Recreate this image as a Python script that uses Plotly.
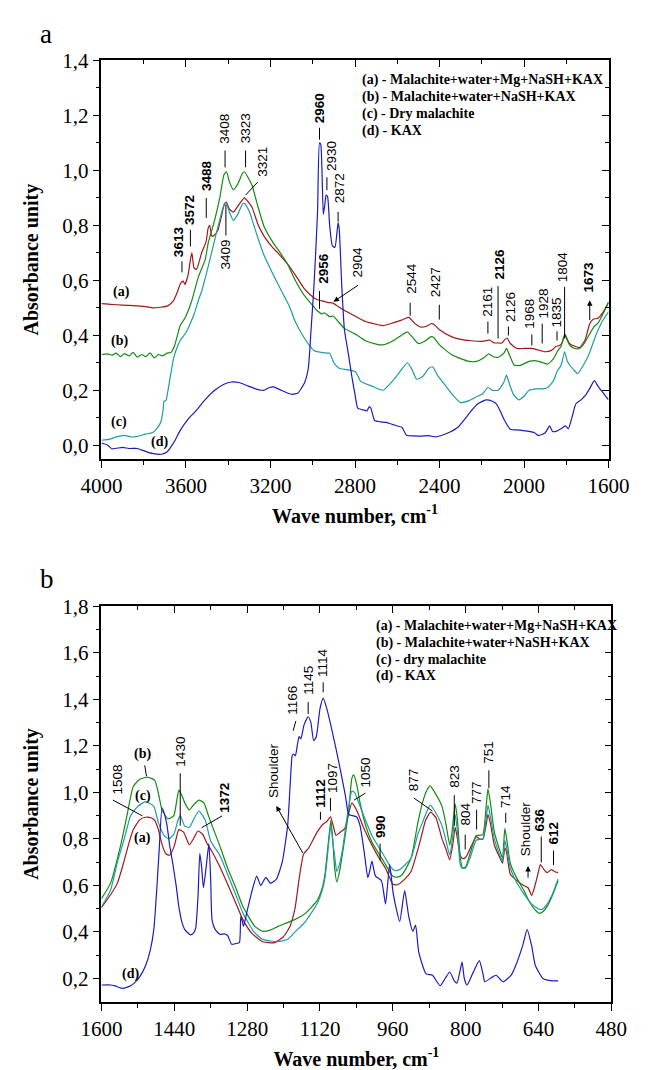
import plotly.graph_objects as go

# ---------------- Panel a: 4000-1600 cm-1 ----------------
A_WN_RED = [4000, 3950, 3900, 3850, 3800, 3760, 3720, 3686, 3660, 3642, 3625, 3613, 3605, 3590, 3578, 3572, 3562,
            3550, 3526, 3505, 3495, 3488, 3477, 3465, 3450, 3430, 3420, 3409, 3395, 3376, 3350, 3323, 3300, 3287,
            3260, 3230, 3190, 3154, 3120, 3083, 3040, 3008, 2980, 2956, 2930, 2911, 2904, 2880, 2850, 2800, 2750,
            2700, 2667, 2620, 2580, 2552, 2544, 2520, 2490, 2465, 2440, 2427, 2400, 2344, 2300, 2250, 2198, 2167,
            2161, 2140, 2126, 2105, 2090, 2080, 2065, 2034, 2000, 1968, 1940, 1901, 1870, 1848, 1835, 1820, 1808,
            1804, 1795, 1785, 1760, 1737, 1710, 1690, 1673, 1650, 1625, 1600]
A_AB_RED = [0.515, 0.512, 0.510, 0.508, 0.505, 0.500, 0.502, 0.507, 0.525, 0.555, 0.590, 0.597, 0.585, 0.620, 0.680,
            0.700, 0.645, 0.640, 0.700, 0.740, 0.790, 0.800, 0.760, 0.765, 0.780, 0.840, 0.875, 0.885, 0.860, 0.848,
            0.875, 0.900, 0.880, 0.865, 0.805, 0.760, 0.720, 0.690, 0.660, 0.620, 0.570, 0.545, 0.530, 0.525, 0.520,
            0.518, 0.517, 0.505, 0.490, 0.470, 0.450, 0.440, 0.435, 0.445, 0.455, 0.464, 0.465, 0.445, 0.430, 0.432,
            0.442, 0.440, 0.420, 0.395, 0.385, 0.380, 0.378, 0.382, 0.382, 0.372, 0.372, 0.372, 0.385, 0.390, 0.370,
            0.352, 0.352, 0.352, 0.348, 0.340, 0.345, 0.360, 0.362, 0.372, 0.400, 0.402, 0.385, 0.370, 0.360, 0.355,
            0.385, 0.440, 0.458, 0.462, 0.485, 0.520]

A_WN_GREEN = [4000, 3970, 3950, 3930, 3910, 3890, 3870, 3850, 3830, 3810, 3790, 3770, 3750, 3730, 3710, 3690, 3670,
              3655, 3642, 3628, 3615, 3600, 3575, 3540, 3509, 3495, 3464, 3440, 3420, 3408, 3395, 3376, 3355, 3332,
              3323, 3300, 3287, 3260, 3230, 3190, 3154, 3120, 3083, 3040, 3008, 2980, 2956, 2945, 2920, 2904, 2880,
              2850, 2800, 2750, 2700, 2667, 2620, 2580, 2552, 2530, 2500, 2470, 2440, 2427, 2400, 2344, 2300, 2260,
              2224, 2190, 2167, 2145, 2122, 2095, 2083, 2070, 2047, 2020, 1976, 1950, 1932, 1910, 1888, 1860, 1843,
              1825, 1808, 1795, 1782, 1760, 1737, 1715, 1693, 1670, 1649, 1625, 1600]
A_AB_GREEN = [0.330, 0.332, 0.328, 0.335, 0.322, 0.333, 0.325, 0.338, 0.320, 0.330, 0.322, 0.336, 0.318, 0.330,
              0.325, 0.335, 0.338, 0.360, 0.395, 0.435, 0.450, 0.470, 0.520, 0.615, 0.675, 0.735, 0.820, 0.900,
              0.985, 0.995, 0.960, 0.930, 0.950, 0.990, 0.995, 0.965, 0.945, 0.870, 0.795, 0.740, 0.700, 0.660,
              0.600, 0.545, 0.515, 0.490, 0.478, 0.482, 0.468, 0.470, 0.450, 0.425, 0.405, 0.380, 0.368, 0.365,
              0.380, 0.400, 0.412, 0.395, 0.370, 0.378, 0.395, 0.392, 0.365, 0.330, 0.315, 0.305, 0.305, 0.318,
              0.332, 0.322, 0.320, 0.335, 0.352, 0.330, 0.292, 0.290, 0.305, 0.308, 0.305, 0.300, 0.295, 0.315,
              0.340, 0.360, 0.402, 0.380, 0.362, 0.352, 0.352, 0.370, 0.400, 0.430, 0.445, 0.480, 0.520]

A_WN_TEAL = [4000, 3960, 3930, 3894, 3860, 3830, 3792, 3760, 3747, 3725, 3717, 3708, 3704, 3695, 3685, 3659, 3640,
             3628, 3600, 3584, 3560, 3540, 3526, 3495, 3460, 3430, 3420, 3409, 3395, 3376, 3355, 3332, 3323, 3300,
             3287, 3260, 3230, 3190, 3154, 3110, 3083, 3040, 2995, 2960, 2930, 2920, 2900, 2875, 2840, 2800, 2785,
             2773, 2720, 2667, 2620, 2580, 2552, 2530, 2508, 2480, 2450, 2432, 2410, 2375, 2340, 2300, 2260, 2220,
             2198, 2171, 2150, 2122, 2095, 2083, 2070, 2050, 2025, 2000, 1976, 1940, 1910, 1888, 1860, 1843, 1825,
             1808, 1795, 1782, 1760, 1746, 1720, 1693, 1660, 1630, 1600]
A_AB_TEAL = [0.018, 0.022, 0.030, 0.036, 0.030, 0.032, 0.040, 0.045, 0.053, 0.075, 0.090, 0.130, 0.160, 0.162,
             0.200, 0.315, 0.360, 0.380, 0.410, 0.435, 0.480, 0.530, 0.560, 0.650, 0.760, 0.850, 0.872, 0.878,
             0.850, 0.818, 0.840, 0.878, 0.880, 0.850, 0.820, 0.755, 0.690, 0.625, 0.570, 0.505, 0.450, 0.390,
             0.345, 0.338, 0.335, 0.335, 0.300, 0.280, 0.275, 0.268, 0.250, 0.232, 0.215, 0.200, 0.235, 0.275,
             0.300, 0.275, 0.240, 0.250, 0.280, 0.285, 0.255, 0.220, 0.185, 0.155, 0.162, 0.178, 0.185, 0.210,
             0.200, 0.200, 0.230, 0.255, 0.225, 0.185, 0.165, 0.178, 0.200, 0.205, 0.205, 0.210, 0.235, 0.270,
             0.290, 0.340, 0.305, 0.290, 0.270, 0.260, 0.290, 0.330, 0.400, 0.450, 0.485]

A_WN_BLUE = [4000, 3970, 3951, 3900, 3870, 3830, 3800, 3760, 3717, 3690, 3672, 3650, 3628, 3590, 3553, 3510, 3464,
             3420, 3385, 3350, 3305, 3270, 3243, 3230, 3205, 3185, 3150, 3120, 3097, 3070, 3040, 3021, 3008, 2995,
             2985, 2977, 2968, 2962, 2950, 2942, 2937, 2930, 2920, 2907, 2895, 2880, 2875, 2862, 2850, 2831, 2815,
             2800, 2787, 2760, 2743, 2733, 2725, 2707, 2680, 2653, 2620, 2600, 2578, 2556, 2520, 2490, 2450, 2420,
             2388, 2350, 2313, 2280, 2255, 2220, 2180, 2150, 2131, 2110, 2092, 2065, 2020, 1976, 1950, 1932, 1900,
             1879, 1865, 1848, 1825, 1804, 1790, 1770, 1755, 1730, 1711, 1690, 1667, 1650, 1636, 1620, 1600]
A_AB_BLUE = [0.008, 0.000, -0.013, -0.008, -0.012, -0.012, -0.020, -0.030, -0.033, -0.025, -0.007, 0.020, 0.053,
             0.095, 0.125, 0.165, 0.200, 0.222, 0.230, 0.228, 0.215, 0.205, 0.200, 0.200, 0.210, 0.212, 0.200,
             0.190, 0.185, 0.190, 0.225, 0.280, 0.420, 0.570, 0.720, 0.855, 1.100, 1.095, 0.840, 0.880, 0.910,
             0.905, 0.800, 0.725, 0.720, 0.810, 0.790, 0.570, 0.420, 0.330, 0.250, 0.185, 0.135, 0.128, 0.125,
             0.140, 0.135, 0.090, 0.085, 0.083, 0.075, 0.070, 0.065, 0.036, 0.034, 0.033, 0.035, 0.030, 0.036,
             0.048, 0.065, 0.095, 0.120, 0.150, 0.165, 0.160, 0.150, 0.120, 0.090, 0.058, 0.055, 0.050, 0.045,
             0.035, 0.045, 0.070, 0.050, 0.050, 0.060, 0.070, 0.060, 0.110, 0.150, 0.165, 0.180, 0.205, 0.235,
             0.215, 0.200, 0.185, 0.165]

# ---------------- Panel b: 1600-600 cm-1 ----------------
B_WN_RED = [1600, 1580, 1565, 1551, 1540, 1530, 1516, 1503, 1490, 1483, 1475, 1466, 1458, 1450, 1440, 1430, 1420,
            1413, 1407, 1398, 1388, 1378, 1368, 1357, 1340, 1323, 1305, 1289, 1270, 1246, 1220, 1200, 1186, 1175,
            1165, 1156, 1145, 1126, 1113, 1105, 1097, 1090, 1085, 1075, 1066, 1058, 1050, 1040, 1023, 1005, 990,
            975, 960, 950, 935, 920, 900, 888, 877, 865, 852, 844, 835, 828, 823, 818, 812, 807, 800, 790, 780, 777,
            770, 762, 755, 751, 745, 737, 725, 719, 714, 710, 702, 690, 677, 663, 655, 647, 640, 636, 628, 621, 612,
            605, 597]
B_AB_RED = [0.505, 0.560, 0.610, 0.700, 0.780, 0.840, 0.882, 0.893, 0.890, 0.880, 0.840, 0.770, 0.735, 0.730,
            0.770, 0.840, 0.830, 0.800, 0.775, 0.800, 0.834, 0.820, 0.780, 0.745, 0.680, 0.606, 0.525, 0.452,
            0.395, 0.358, 0.354, 0.380, 0.424, 0.500, 0.640, 0.735, 0.760, 0.830, 0.864, 0.875, 0.895, 0.850,
            0.815, 0.830, 0.843, 0.900, 0.955, 0.925, 0.843, 0.770, 0.717, 0.670, 0.605, 0.603, 0.625, 0.660,
            0.790, 0.880, 0.915, 0.890, 0.800, 0.760, 0.710, 0.780, 0.850, 0.800, 0.730, 0.715, 0.720, 0.760,
            0.800, 0.810, 0.800, 0.800, 0.860, 0.906, 0.860, 0.773, 0.720, 0.696, 0.760, 0.740, 0.648, 0.625,
            0.605, 0.590, 0.557, 0.605, 0.660, 0.690, 0.668, 0.655, 0.668, 0.660, 0.655]

B_WN_GREEN = [1600, 1580, 1557, 1544, 1530, 1516, 1499, 1483, 1475, 1467, 1454, 1441, 1435, 1430, 1424, 1417, 1407,
              1396, 1386, 1375, 1365, 1357, 1340, 1323, 1305, 1289, 1263, 1246, 1230, 1212, 1177, 1152, 1126, 1115,
              1109, 1104, 1100, 1096, 1092, 1088, 1083, 1077, 1068, 1057, 1050, 1046, 1040, 1032, 1020, 1006, 980,
              960, 950, 940, 920, 905, 895, 885, 878, 868, 852, 843, 835, 830, 823, 818, 812, 807, 800, 790, 777, 770,
              762, 755, 751, 746, 737, 725, 719, 714, 710, 702, 690, 672, 660, 647, 638, 630, 621, 610, 597]
B_AB_GREEN = [0.543, 0.610, 0.780, 0.900, 1.026, 1.056, 1.065, 1.052, 0.997, 0.925, 0.886, 0.900, 0.960, 1.010,
              0.990, 0.955, 0.925, 0.950, 0.967, 0.955, 0.900, 0.857, 0.770, 0.675, 0.590, 0.508, 0.424, 0.403,
              0.408, 0.424, 0.452, 0.480, 0.536, 0.590, 0.648, 0.740, 0.815, 0.880, 0.800, 0.680, 0.615, 0.660,
              0.770, 0.920, 1.060, 1.075, 1.040, 0.955, 0.860, 0.787, 0.703, 0.640, 0.636, 0.645, 0.717, 0.870,
              0.955, 1.010, 1.028, 1.000, 0.940, 0.860, 0.773, 0.830, 0.950, 0.880, 0.720, 0.675, 0.680, 0.740,
              0.815, 0.815, 0.820, 0.940, 1.015, 0.960, 0.830, 0.750, 0.717, 0.845, 0.800, 0.696, 0.640, 0.578,
              0.530, 0.494, 0.480, 0.488, 0.510, 0.555, 0.620]

B_WN_TEAL = [1600, 1580, 1565, 1550, 1536, 1520, 1503, 1485, 1475, 1462, 1452, 1441, 1432, 1427, 1417, 1407, 1396,
             1386, 1372, 1360, 1340, 1323, 1305, 1289, 1265, 1246, 1212, 1190, 1177, 1152, 1126, 1115, 1109, 1104,
             1100, 1096, 1092, 1088, 1083, 1076, 1070, 1060, 1050, 1044, 1032, 1006, 980, 965, 955, 945, 920, 905,
             895, 878, 868, 852, 843, 835, 829, 823, 818, 812, 807, 800, 790, 777, 770, 762, 755, 751, 746, 737, 725,
             719, 714, 710, 702, 690, 672, 655, 638, 630, 621, 610, 597]
B_AB_TEAL = [0.508, 0.580, 0.700, 0.800, 0.900, 0.940, 0.960, 0.940, 0.870, 0.814, 0.800, 0.820, 0.880, 0.900,
             0.855, 0.850, 0.890, 0.920, 0.880, 0.790, 0.730, 0.648, 0.560, 0.480, 0.400, 0.368, 0.358, 0.370,
             0.396, 0.445, 0.522, 0.580, 0.634, 0.720, 0.800, 0.857, 0.790, 0.730, 0.660, 0.700, 0.760, 0.900,
             1.005, 1.000, 0.940, 0.815, 0.730, 0.680, 0.664, 0.668, 0.717, 0.820, 0.870, 0.945, 0.920, 0.857,
             0.790, 0.730, 0.800, 0.905, 0.830, 0.690, 0.673, 0.675, 0.720, 0.794, 0.798, 0.800, 0.890, 0.944,
             0.900, 0.800, 0.730, 0.703, 0.794, 0.760, 0.675, 0.620, 0.564, 0.520, 0.497, 0.500, 0.520, 0.560,
             0.627]

B_WN_BLUE = [1600, 1580, 1570, 1555, 1540, 1528, 1515, 1503, 1493, 1485, 1478, 1473, 1467, 1462, 1456, 1450, 1443,
             1436, 1430, 1423, 1417, 1405, 1398, 1393, 1388, 1384, 1380, 1376, 1370, 1364, 1360, 1357, 1350, 1340,
             1330, 1323, 1314, 1305, 1297, 1294, 1290, 1288, 1280, 1271, 1259, 1250, 1239, 1229, 1216, 1203, 1191,
             1185, 1181, 1178, 1174, 1170, 1166, 1162, 1155, 1146, 1140, 1134, 1128, 1120, 1113, 1105, 1092, 1078,
             1064, 1057, 1049, 1040, 1032, 1023, 1015, 1011, 1006, 998, 985, 976, 967, 959, 945, 934, 925, 916, 910,
             903, 887, 873, 856, 845, 835, 825, 819, 808, 803, 797, 785, 770, 762, 758, 741, 733, 718, 700, 690, 675,
             665, 655, 647, 630, 610, 597]
B_AB_BLUE = [0.172, 0.172, 0.168, 0.158, 0.165, 0.180, 0.210, 0.256, 0.320, 0.410, 0.600, 0.760, 0.934, 0.910,
             0.857, 0.770, 0.690, 0.600, 0.508, 0.440, 0.410, 0.388, 0.395, 0.417, 0.550, 0.738, 0.680, 0.590,
             0.680, 0.780, 0.620, 0.450, 0.410, 0.390, 0.392, 0.385, 0.347, 0.350, 0.354, 0.466, 0.440, 0.424,
             0.490, 0.564, 0.640, 0.600, 0.635, 0.610, 0.626, 0.700, 0.857, 1.050, 1.158, 1.165, 1.157, 1.200,
             1.240, 1.230, 1.290, 1.325, 1.300, 1.222, 1.240, 1.360, 1.405, 1.360, 1.252, 1.124, 0.984, 0.905,
             0.900, 0.895, 0.857, 0.745, 0.634, 0.660, 0.705, 0.640, 0.620, 0.520, 0.690, 0.564, 0.445, 0.578,
             0.466, 0.403, 0.430, 0.312, 0.220, 0.214, 0.169, 0.200, 0.228, 0.190, 0.180, 0.270, 0.200, 0.172,
             0.220, 0.277, 0.220, 0.186, 0.207, 0.214, 0.186, 0.215, 0.256, 0.340, 0.410, 0.340, 0.256, 0.200,
             0.190, 0.190]

# ---------------- axes ticks ----------------
A_XTICKS = [4000, 3600, 3200, 2800, 2400, 2000, 1600]
A_XMINOR = [3800, 3400, 3000, 2600, 2200, 1800]
A_YTICKS = [0.0, 0.2, 0.4, 0.6, 0.8, 1.0, 1.2, 1.4]
A_YLABELS = ["0,0", "0,2", "0,4", "0,6", "0,8", "1,0", "1,2", "1,4"]
A_YMINOR = [0.1, 0.3, 0.5, 0.7, 0.9, 1.1, 1.3]

B_XTICKS = [1600, 1440, 1280, 1120, 960, 800, 640, 480]
B_XMINOR = [1520, 1360, 1200, 1040, 880, 720, 560]
B_YTICKS = [0.2, 0.4, 0.6, 0.8, 1.0, 1.2, 1.4, 1.6, 1.8]
B_YLABELS = ["0,2", "0,4", "0,6", "0,8", "1,0", "1,2", "1,4", "1,6", "1,8"]
B_YMINOR = [0.3, 0.5, 0.7, 0.9, 1.1, 1.3, 1.5, 1.7]

# ---------------- band labels, panel a ----------------
A_LBL_TEXT = ["3613", "3572", "3488", "3408", "3323", "3321", "3409", "2960", "2930", "2872", "2956", "2904",
              "2544", "2427", "2161", "2126", "2126", "1968", "1928", "1835", "1804", "1673"]
A_LBL_BOLD = [1, 1, 1, 0, 0, 0, 0, 1, 0, 0, 1, 0, 0, 0, 0, 1, 0, 0, 0, 0, 0, 1]
A_LBL_X = [3632, 3584, 3504, 3415, 3318, 3238, 3411, 2968, 2911, 2875, 2951, 2787, 2534, 2415, 2171, 2114, 2065,
           1976, 1906, 1844, 1817, 1693]
A_LBL_Y = [0.676, 0.795, 0.917, 1.090, 1.090, 0.971, 0.755, 1.162, 0.989, 0.874, 0.579, 0.604, 0.543, 0.532, 0.460,
           0.597, 0.442, 0.417, 0.453, 0.421, 0.586, 0.550]
A_LBL_BELOW = [0, 0, 0, 0, 0, 0, 1, 0, 0, 0, 0, 0, 0, 0, 0, 0, 0, 0, 0, 0, 0, 0]
# leader segments (x0, y0, x1, y1)
A_LEADERS = [(3619, 0.669, 3619, 0.629), (3579, 0.784, 3579, 0.723), (3504, 0.899, 3504, 0.827),
             (3415, 1.072, 3415, 1.011), (3318, 1.072, 3318, 1.011), (3261, 0.957, 3318, 0.910),
             (3411, 0.874, 3411, 0.763), (2968, 1.155, 2968, 1.112), (2933, 0.975, 2933, 0.928),
             (2880, 0.849, 2880, 0.813), (2968, 0.561, 2968, 0.496), (2539, 0.518, 2539, 0.471),
             (2401, 0.511, 2401, 0.457), (2171, 0.450, 2171, 0.406), (2123, 0.579, 2123, 0.388),
             (2074, 0.432, 2074, 0.399), (1963, 0.403, 1963, 0.363), (1914, 0.442, 1914, 0.370),
             (1844, 0.414, 1844, 0.381), (1808, 0.576, 1808, 0.388)]
# arrows (tail x, tail y, head x, head y)
A_ARROWS = [(2778, 0.586, 2902, 0.522), (1689, 0.450, 1689, 0.527)]
A_CURVE_TAGS = ["(a)", "(b)", "(c)", "(d)"]
A_TAG_X = [3907, 3916, 3916, 3725]
A_TAG_Y = [0.558, 0.378, 0.086, 0.011]
A_LEGEND = ["(a) - Malachite+water+Mg+NaSH+KAX", "(b) - Malachite+water+NaSH+KAX", "(c) - Dry malachite",
            "(d) - KAX"]

# ---------------- band labels, panel b ----------------
B_LBL_TEXT = ["1508", "1430", "1372", "Shoulder", "1166", "1145", "1114", "1112", "1097", "1050", "990", "877",
              "823", "804", "777", "751", "714", "Shoulder", "636", "612"]
B_LBL_BOLD = [0, 0, 1, 0, 0, 0, 0, 1, 0, 0, 1, 0, 0, 0, 0, 0, 0, 0, 1, 1]
B_LBL_X = [1565, 1427, 1329, 1222, 1181, 1144, 1113, 1119, 1094, 1020, 988, 914, 825, 801, 776, 749, 712, 667,
           638, 607]
B_LBL_Y = [0.984, 1.103, 0.903, 0.967, 1.324, 1.409, 1.486, 0.925, 0.988, 1.010, 0.793, 0.997, 1.010, 0.848,
           0.942, 1.116, 0.925, 0.716, 0.823, 0.767]
B_LEADERS = [(1575, 0.967, 1510, 0.899), (1427, 1.082, 1427, 0.857), (1335, 0.899, 1380, 0.848),
             (1173, 1.307, 1179, 1.265), (1146, 1.388, 1146, 1.337), (1113, 1.473, 1113, 1.430),
             (1119, 0.916, 1119, 0.882), (1097, 0.976, 1097, 0.920), (1020, 0.997, 1045, 0.967),
             (988, 0.780, 988, 0.708), (914, 0.976, 873, 0.920), (825, 0.988, 825, 0.857),
             (801, 0.818, 801, 0.755), (776, 0.925, 776, 0.840), (749, 1.095, 749, 1.018),
             (712, 0.912, 712, 0.869), (634, 0.810, 634, 0.699), (607, 0.750, 607, 0.687),
             (1505, 1.116, 1501, 1.069)]
B_ARROWS = [(1156, 0.733, 1216, 0.942), (663, 0.627, 663, 0.684)]
B_CURVE_TAGS = ["(b)", "(c)", "(a)", "(d)"]
B_TAG_X = [1510, 1508, 1510, 1536]
B_TAG_Y = [1.167, 0.984, 0.806, 0.219]
B_LEGEND = ["(a) - Malachite+water+Mg+NaSH+KAX", "(b) - Malachite+water+NaSH+KAX", "(c) - dry malachite",
            "(d) - KAX"]

RED, GREEN, TEAL, BLUE = "#9E1A1A", "#138A13", "#1F9CA3", "#1C1CBE"
W, H = 652, 1070
SERIF = "Liberation Serif, Times New Roman, serif"
SANS = "Liberation Sans, Arial, sans-serif"


def px_x(p):
    return p / W


def px_y(p):
    return 1 - p / H


fig = go.Figure()

series_a = [(A_WN_RED, A_AB_RED, RED), (A_WN_GREEN, A_AB_GREEN, GREEN),
            (A_WN_TEAL, A_AB_TEAL, TEAL), (A_WN_BLUE, A_AB_BLUE, BLUE)]
series_b = [(B_WN_RED, B_AB_RED, RED), (B_WN_GREEN, B_AB_GREEN, GREEN),
            (B_WN_TEAL, B_AB_TEAL, TEAL), (B_WN_BLUE, B_AB_BLUE, BLUE)]
for wn, ab, col in series_a:
    fig.add_trace(go.Scatter(x=wn, y=ab, mode="lines", line=dict(color=col, width=1.2, shape="spline",
                                                                  smoothing=0.5),
                             xaxis="x", yaxis="y", showlegend=False, hoverinfo="skip"))
for wn, ab, col in series_b:
    fig.add_trace(go.Scatter(x=wn, y=ab, mode="lines", line=dict(color=col, width=1.2, shape="spline",
                                                                  smoothing=0.5),
                             xaxis="x2", yaxis="y2", showlegend=False, hoverinfo="skip"))
# empty traces so the mirrored tick axes get their own subplots
for xa, ya in [("x3", "y"), ("x", "y3"), ("x4", "y2"), ("x2", "y4")]:
    fig.add_trace(go.Scatter(x=[None], y=[None], xaxis=xa, yaxis=ya, showlegend=False, hoverinfo="skip"))

dom_ax = [px_x(86), px_x(628)]
dom_ay = [px_y(452), px_y(49)]
dom_bx = [px_x(86), px_x(631)]
dom_by = [px_y(1001), px_y(601)]

tickfont = dict(family=SERIF, size=21, color="black")
titlefont = dict(family=SERIF, size=20, color="black")
xtitle = "<b>Wave number, cm<sup>-1</sup></b>"
ytitle = "<b>Absorbance unity</b>"


def base_x(rng, dom, anchor, ticks, minor):
    return dict(range=rng, domain=dom, anchor=anchor, showline=True, linecolor="black", linewidth=1.5,
                ticks="outside", ticklen=7, tickwidth=1.2, tickcolor="black", tickmode="array",
                tickvals=ticks, ticktext=[str(t) for t in ticks], tickfont=tickfont, showgrid=False,
                zeroline=False, minor=dict(tickmode="array", tickvals=minor, ticks="outside", ticklen=4,
                                           tickwidth=1.2, tickcolor="black"),
                title=dict(text=xtitle, font=titlefont, standoff=12))


def base_y(rng, dom, anchor, ticks, labels, minor):
    return dict(range=rng, domain=dom, anchor=anchor, showline=True, linecolor="black", linewidth=1.5,
                ticks="outside", ticklen=7, tickwidth=1.2, tickcolor="black", tickmode="array",
                tickvals=ticks, ticktext=labels, tickfont=tickfont, showgrid=False, zeroline=False,
                minor=dict(tickmode="array", tickvals=minor, ticks="outside", ticklen=4, tickwidth=1.2,
                           tickcolor="black"),
                title=dict(text=ytitle, font=titlefont, standoff=18))


def mirror_x(rng, over, anchor, ticks, minor):
    return dict(range=rng, overlaying=over, anchor=anchor, side="top", showline=True, linecolor="black",
                linewidth=1.5, ticks="inside", ticklen=7, tickwidth=1.2, tickcolor="black", tickmode="array",
                tickvals=ticks, showticklabels=False, showgrid=False, zeroline=False,
                minor=dict(tickmode="array", tickvals=minor, ticks="inside", ticklen=4, tickwidth=1.2,
                           tickcolor="black"))


def mirror_y(rng, over, anchor, ticks, minor):
    return dict(range=rng, overlaying=over, anchor=anchor, side="right", showline=True, linecolor="black",
                linewidth=1.5, ticks="inside", ticklen=7, tickwidth=1.2, tickcolor="black", tickmode="array",
                tickvals=ticks, showticklabels=False, showgrid=False, zeroline=False,
                minor=dict(tickmode="array", tickvals=minor, ticks="inside", ticklen=4, tickwidth=1.2,
                           tickcolor="black"))


A_XR, A_YR = [4000, 1600], [-0.05, 1.4]
B_XR, B_YR = [1600, 480], [0.1, 1.8]

annotations = []
shapes = []


def band_labels(texts, bolds, xs, ys, below, xref, yref):
    for i, t in enumerate(texts):
        txt = f"<b>{t}</b>" if bolds[i] else t
        annotations.append(dict(x=xs[i], y=ys[i], xref=xref, yref=yref, text=txt, textangle=-90,
                                showarrow=False, xanchor="center",
                                yanchor="top" if (below and below[i]) else "bottom",
                                font=dict(family=SANS, size=13.5, color="black")))


def leaders(segs, xref, yref):
    for x0, y0, x1, y1 in segs:
        shapes.append(dict(type="line", xref=xref, yref=yref, x0=x0, y0=y0, x1=x1, y1=y1,
                           line=dict(color="black", width=1)))


def arrows(arrs, xref, yref):
    for tx, ty, hx, hy in arrs:
        annotations.append(dict(x=hx, y=hy, ax=tx, ay=ty, xref=xref, yref=yref, axref=xref, ayref=yref,
                                text="", showarrow=True, arrowhead=2, arrowsize=1.1, arrowwidth=1,
                                arrowcolor="black"))


def tags(texts, xs, ys, xref, yref):
    for t, x, y in zip(texts, xs, ys):
        annotations.append(dict(x=x, y=y, xref=xref, yref=yref, text=f"<b>{t}</b>", showarrow=False,
                                xanchor="center", yanchor="middle",
                                font=dict(family=SERIF, size=14, color="black")))


def legend_block(lines, x_px, y0_px, step):
    for i, t in enumerate(lines):
        annotations.append(dict(x=px_x(x_px), y=px_y(y0_px + i * step), xref="paper", yref="paper",
                                text=f"<b>{t}</b>", showarrow=False, xanchor="left", yanchor="middle",
                                font=dict(family=SERIF, size=14, color="black")))


band_labels(A_LBL_TEXT, A_LBL_BOLD, A_LBL_X, A_LBL_Y, A_LBL_BELOW, "x", "y")
leaders(A_LEADERS, "x", "y")
arrows(A_ARROWS, "x", "y")
tags(A_CURVE_TAGS, A_TAG_X, A_TAG_Y, "x", "y")
legend_block(A_LEGEND, 362, 69, 17)

band_labels(B_LBL_TEXT, B_LBL_BOLD, B_LBL_X, B_LBL_Y, None, "x2", "y2")
leaders(B_LEADERS, "x2", "y2")
arrows(B_ARROWS, "x2", "y2")
tags(B_CURVE_TAGS, B_TAG_X, B_TAG_Y, "x2", "y2")
legend_block(B_LEGEND, 377, 621, 17)

# panel letters
for letter, xp, yp in [("a", 27, 22), ("b", 28, 573)]:
    annotations.append(dict(x=px_x(xp), y=px_y(yp), xref="paper", yref="paper", text=letter, showarrow=False,
                            xanchor="center", yanchor="middle", font=dict(family=SERIF, size=27, color="black")))

fig.update_layout(
    width=W, height=H, margin=dict(l=0, r=0, t=0, b=0), paper_bgcolor="white", plot_bgcolor="white",
    xaxis=base_x(A_XR, dom_ax, "y", A_XTICKS, A_XMINOR),
    yaxis=base_y(A_YR, dom_ay, "x", A_YTICKS, A_YLABELS, A_YMINOR),
    xaxis2=base_x(B_XR, dom_bx, "y2", B_XTICKS, B_XMINOR),
    yaxis2=base_y(B_YR, dom_by, "x2", B_YTICKS, B_YLABELS, B_YMINOR),
    xaxis3=mirror_x(A_XR, "x", "y", A_XTICKS, A_XMINOR),
    yaxis3=mirror_y(A_YR, "y", "x", A_YTICKS, A_YMINOR),
    xaxis4=mirror_x(B_XR, "x2", "y2", B_XTICKS, B_XMINOR),
    yaxis4=mirror_y(B_YR, "y2", "x2", B_YTICKS, B_YMINOR),
    annotations=annotations, shapes=shapes, showlegend=False,
)

fig.write_html("out.html")
